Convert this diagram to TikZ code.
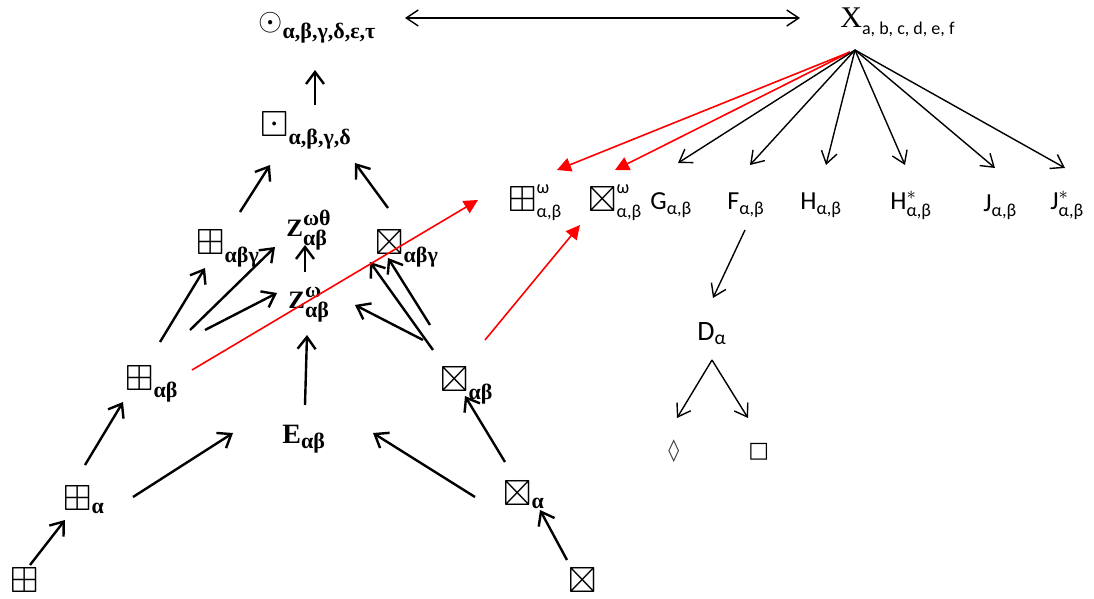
\documentclass[tikz,border=0pt]{standalone}
\usepackage{amsmath,amssymb}
\usepackage{graphicx}
\usepackage{fontspec}
\setmainfont{Liberation Serif}
\newfontfamily\calib{Carlito}
\newfontfamily\dejavu{DejaVu Sans}
\usetikzlibrary{arrows.meta}
% bigger box symbols and fixed-size bold Greek subscripts
\newcommand{\sym}[1]{\mathord{\scalebox{1.4}{$#1$}}}
\newcommand{\gk}[1]{\text{\bfseries\fontsize{11}{13}\selectfont #1}}

\begin{document}
\begin{tikzpicture}[x=0.5pt, y=-0.5pt,
  lab/.style={anchor=base west, inner sep=0pt, font=\bfseries\fontsize{13}{15}\selectfont},
  rlab/.style={anchor=base west, inner sep=0pt, font=\calib\fontsize{13}{15}\selectfont},
  glyph/.style={anchor=base west, inner sep=0pt, font=\dejavu\fontsize{11}{13}\selectfont},
  arr/.style={-{Straight Barb[length=6pt,width=9pt]}, line width=1.2pt},
  tarr/.style={-{Straight Barb[length=6pt,width=8pt]}, line width=0.7pt},
  rarr/.style={-{Triangle[length=7pt,width=7pt]}, red, line width=0.8pt}
]
  \useasboundingbox (0,0) rectangle (1094,599);
  % Left tree
  \node[lab] (circ) at (258,31) {$\mathord{\scalebox{1.3}{$\odot$}}_{\gk{α,β,γ,δ,ε,τ}}$};
  \node[lab] (bdot) at (260,137) {$\sym{\boxdot}_{\gk{α,β,γ,δ}}$};
  \node[lab, font=\bfseries\fontsize{12.5}{14}\selectfont] (Zwt) at (286,236) {$\text{Z}^{\gk{ωθ}}_{\gk{αβ}}$};
  \node[lab, font=\bfseries\fontsize{12.5}{14}\selectfont] (Zw) at (288,308) {$\text{Z}^{\gk{ω}}_{\gk{αβ}}$};
  \node[lab] (Pabg) at (196,255) {$\sym{\boxplus}_{\gk{αβγ}}$};
  \node[lab] (Xabg) at (375,255) {$\sym{\boxtimes}_{\gk{αβγ}}$};
  \node[lab] (Pab) at (125,390) {$\sym{\boxplus}_{\gk{αβ}}$};
  \node[lab] (Xab) at (440,392) {$\sym{\boxtimes}_{\gk{αβ}}$};
  \node[lab, font=\bfseries\fontsize{14}{16}\selectfont] (E) at (282,443) {$\text{E}_{\gk{αβ}}$};
  \node[lab] (Pa) at (63,510) {$\sym{\boxplus}_{\gk{α}}$};
  \node[lab] (Xa) at (503,505) {$\sym{\boxtimes}_{\gk{α}}$};
  \node[lab] (P) at (10,592) {$\sym{\boxplus}$};
  \node[lab] (Xb) at (568,592) {$\sym{\boxtimes}$};
  % Right side
  \node[anchor=base west, inner sep=0pt, font=\fontsize{15}{17}\selectfont] (X) at (840,28)
    {X\raisebox{-0.45ex}{\calib\fontsize{9}{10}\selectfont a, b, c, d, e, f}};
  \node[rlab] (Pw) at (508,212) {$\sym{\boxplus}^{\text{ω}}_{\text{α,β}}$};
  \node[rlab] (Xw) at (588,212) {$\sym{\boxtimes}^{\text{ω}}_{\text{α,β}}$};
  \node[rlab] (G) at (650,210) {$\text{G}_{\text{α,β}}$};
  \node[rlab] (F) at (727,210) {$\text{F}_{\text{α,β}}$};
  \node[rlab] (H) at (800,210) {$\text{H}_{\text{α,β}}$};
  \node[rlab] (Hs) at (890,210) {$\text{H}^{*}_{\text{α,β}}$};
  \node[rlab] (J) at (983,212) {$\text{J}_{\text{α,β}}$};
  \node[rlab] (Js) at (1050,210) {$\text{J}^{*}_{\text{α,β}}$};
  \node[rlab, font=\calib\fontsize{14}{16}\selectfont] (D) at (697,340) {$\text{D}_{\text{α}}$};
  \node[glyph, text=darkgray] (dia) at (668,457) {◊};
  \node[glyph] (sq) at (748,457) {□};

  % Black arrows, left tree
  \draw[arr] ([shift={(20,-27)}]P.base west) -- ([shift={(2,10)}]Pa.base west);
  \draw[arr] ([shift={(22,-45)}]Pa.base west) -- ([shift={(-2,12)}]Pab.base west);
  \draw[arr] ([shift={(70,-13)}]Pa.base west) -- ([shift={(-49,-10)}]E.base west);
  \draw[arr] ([shift={(35,-48)}]Pab.base west) -- ([shift={(9,13)}]Pabg.base west);
  \draw[arr] ([shift={(65,-60)}]Pab.base west) -- ([shift={(-11,11)}]Zwt.base west);
  \draw[arr] ([shift={(80,-60)}]Pab.base west) -- ([shift={(-11,-15)}]Zw.base west);
  \draw[arr] ([shift={(23,-38)}]E.base west) -- ([shift={(19,27)}]Zw.base west);
  \draw[arr] ([shift={(17,-36)}]Zw.base west) -- ([shift={(19,9)}]Zwt.base west);
  \draw[arr] ([shift={(44,-43)}]Pabg.base west) -- ([shift={(10,28)}]bdot.base west);
  \draw[arr] ([shift={(13,-47)}]Xabg.base west) -- ([shift={(95,26)}]bdot.base west);
  \draw[arr] ([shift={(55,-32)}]bdot.base west) -- ([shift={(57,39)}]circ.base west);
  \draw[arr] ([shift={(-17,-52)}]Xab.base west) -- ([shift={(67,-3)}]Zw.base west);
  \draw[arr] ([shift={(-7,-42)}]Xab.base west) -- ([shift={(-5,7)}]Xabg.base west);
  \draw[arr] ([shift={(-10,-67)}]Xab.base west) -- ([shift={(13,3)}]Xabg.base west);
  \draw[arr] ([shift={(2,-43)}]Xa.base west) -- ([shift={(25,4)}]Xab.base west);
  \draw[arr] ([shift={(-28,-8)}]Xa.base west) -- ([shift={(91,-10)}]E.base west);
  \draw[arr] ([shift={(-1,-32)}]Xb.base west) -- ([shift={(37,5)}]Xa.base west);
  % Top link
  \draw[tarr, {Straight Barb[length=6pt,width=8pt]}-{Straight Barb[length=6pt,width=8pt]}]
    ([shift={(147,-13)}]circ.base west) -- ([shift={(-40,-10)}]X.base west);
  % Red arrows
  \draw[rarr] ([shift={(67,-20)}]Pab.base west) -- ([shift={(-30,-12)}]Pw.base west);
  \draw[rarr] ([shift={(45,-52)}]Xab.base west) -- ([shift={(-8,13)}]Xw.base west);
  \draw[rarr] ([shift={(10,24)}]X.base west) -- ([shift={(49,-42)}]Pw.base west);
  \draw[rarr] ([shift={(10,24)}]X.base west) -- ([shift={(27,-42)}]Xw.base west);
  % X to its children
  \foreach \t/\dx/\dy in {G/28/-47, F/23/-45, H/26/-45, Hs/15/-45, J/12/-44, Js/15/-42}
    \draw[tarr] ([shift={(15,22)}]X.base west) -- ([shift={(\dx,\dy)}]\t.base west);
  \draw[tarr] ([shift={(18,20)}]F.base west) -- ([shift={(16,-42)}]D.base west);
  \draw[tarr] ([shift={(15,20)}]D.base west) -- ([shift={(9,-39)}]dia.base west);
  \draw[tarr] ([shift={(15,20)}]D.base west) -- ([shift={(0,-39)}]sq.base west);
\end{tikzpicture}
\end{document}
